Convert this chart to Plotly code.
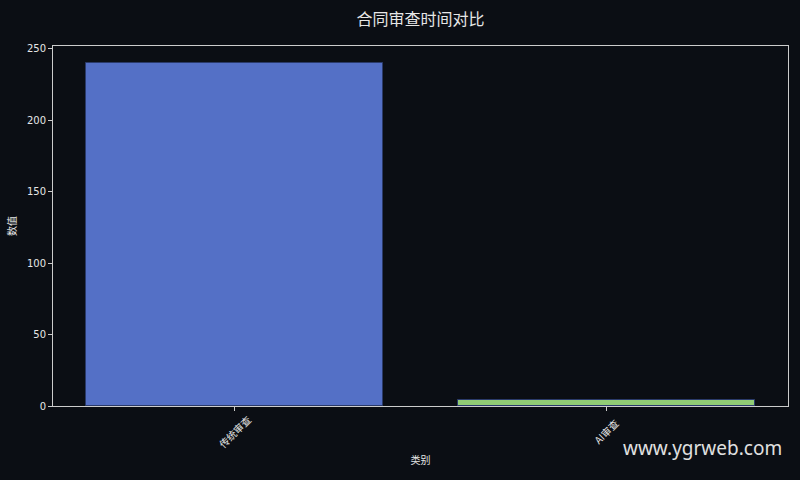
import plotly.graph_objects as go

categories = ["传统审查", "AI审查"]
values = [240, 4]
colors = ["#5470c6", "#91cc75"]

bg = "#0b0e14"
fg = "#e6e6e6"
font_cjk = "Noto Sans CJK SC, DejaVu Sans, sans-serif"

fig = go.Figure(go.Bar(
    x=[0, 1],
    y=values,
    width=0.8,
    marker=dict(color=colors, line=dict(color="#2a3a6a", width=1)),
))

fig.update_layout(
    width=800, height=480,
    paper_bgcolor=bg, plot_bgcolor=bg,
    margin=dict(l=53, r=12, t=46, b=74),
    title=dict(text="合同审查时间对比", xref="paper", x=0.5, xanchor="center", y=0.96, yanchor="middle",
               font=dict(family=font_cjk, size=16, color=fg)),
    font=dict(family=font_cjk, color=fg, size=11),
    showlegend=False,
    bargap=0,
)

fig.update_xaxes(
    range=[-0.49, 1.49],
    tickmode="array", tickvals=[0, 1], ticktext=["", ""],
    ticks="outside", ticklen=4, tickcolor="#cccccc",
    showgrid=False, zeroline=False,
    showline=True, linecolor="#cccccc", linewidth=1, mirror=True,
    title=dict(text="类别", font=dict(size=10), standoff=44),
)
fig.update_yaxes(
    range=[0, 252],
    tickvals=[0, 50, 100, 150, 200, 250],
    ticks="outside", ticklen=4, tickcolor="#cccccc",
    showgrid=False, zeroline=False,
    showline=True, linecolor="#cccccc", linewidth=1, mirror=True,
    title=dict(text="数值", font=dict(size=10), standoff=8),
    tickfont=dict(family="DejaVu Sans, sans-serif", size=10),
)

# rotated category labels centred under each tick
for i, cat in enumerate(categories):
    fig.add_annotation(
        text=cat, x=i, xref="x", y=-0.072, yref="paper",
        textangle=-45, showarrow=False, xanchor="center", yanchor="middle",
        font=dict(family=font_cjk, size=10, color=fg),
    )

fig.add_annotation(
    text="www.ygrweb.com", xref="paper", yref="paper",
    x=0.995, y=-0.118, xanchor="right", yanchor="middle", showarrow=False,
    font=dict(family="Noto Sans, DejaVu Sans, sans-serif", size=19, color="#e0e0e0"),
)

fig.write_html(
    "out.html",
    config={"displayModeBar": False},
    post_script="document.body.style.margin='0';document.body.style.background='%s';" % bg,
)
